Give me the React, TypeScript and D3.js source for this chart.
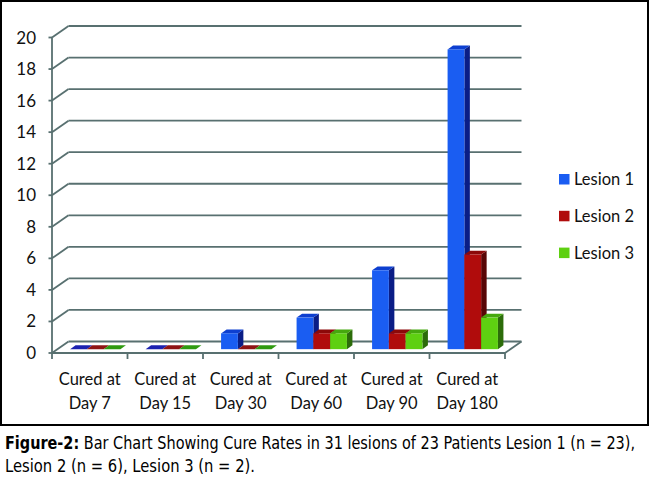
import * as d3 from 'd3';

const categories = ['Day 7', 'Day 15', 'Day 30', 'Day 60', 'Day 90', 'Day 180'];
const seriesNames = ['Lesion 1', 'Lesion 2', 'Lesion 3'];
const lesion1 = [0, 0, 1, 2, 5, 19];
const lesion2 = [0, 0, 0, 1, 1, 6];
const lesion3 = [0, 0, 0, 1, 1, 2];
const yTicks = [0, 2, 4, 6, 8, 10, 12, 14, 16, 18, 20];
const captionLine1 = 'Bar Chart Showing Cure Rates in 31 lesions of 23 Patients Lesion 1 (n = 23),';
const captionLine2 = 'Lesion 2 (n = 6), Lesion 3 (n = 2).';

const seriesValues = [lesion1, lesion2, lesion3];
const palette = [
  { front: '#1a5df2', top: '#0d3fd0', side: '#0a1d86', flat: '#1c22b0' },
  { front: '#b00c0c', top: '#8c0909', side: '#580606', flat: '#8e1414' },
  { front: '#5ed011', top: '#45a80e', side: '#2c6c0a', flat: '#2f9a10' },
];

const W = 650;
const H = 487;
const font = 'Lato, "Open Sans", sans-serif';
const narrow = '"Liberation Sans Narrow", "DejaVu Sans Condensed", sans-serif';
const gridColor = '#587070';
const captionScale = 0.8;

// floor depth vector (front -> back)
const DX = 16.5;
const DY = -11.5;

const App = () => {
  const x = d3.scaleBand<string>().domain(categories).range([52, 505]).paddingInner(0).paddingOuter(0);
  const y = d3.scaleLinear().domain([0, 20]).range([353, 37.5]);
  const inner = d3.scaleBand<string>()
    .domain(seriesNames)
    .range([0, x.bandwidth()])
    .paddingInner(0)
    .paddingOuter(0.75);

  // bars sit in the middle third of the floor depth
  const fx = DX / 3;
  const fy = DY / 3;
  const bx = DX / 3;
  const by = DY / 3;

  const bars: JSX.Element[] = [];
  categories.forEach((c, ci) => {
    seriesNames.forEach((s, si) => {
      const v = seriesValues[si][ci];
      const col = palette[si];
      const x0 = (x(c) || 0) + (inner(s) || 0) + fx;
      const w = inner.bandwidth();
      const yb = y(0) + fy;
      const yt = y(v) + fy;
      const key = `${c}-${s}`;
      if (v === 0) {
        bars.push(
          <polygon key={key} fill={col.flat}
            points={`${x0},${yb} ${x0 + w},${yb} ${x0 + w + bx},${yb + by} ${x0 + bx},${yb + by}`} />
        );
        return;
      }
      bars.push(
        <g key={key}>
          <polygon fill={col.side}
            points={`${x0 + w},${yb} ${x0 + w + bx},${yb + by} ${x0 + w + bx},${yt + by} ${x0 + w},${yt}`} />
          <polygon fill={col.top}
            points={`${x0},${yt} ${x0 + w},${yt} ${x0 + w + bx},${yt + by} ${x0 + bx},${yt + by}`} />
          <rect x={x0} y={yt} width={w} height={yb - yt} fill={col.front} />
        </g>
      );
    });
  });

  const left = x.range()[0];
  const right = x.range()[1];
  const bounds = [...categories.map(c => x(c) || 0), right];

  return (
    <svg width={W} height={H} style={{ position: 'absolute', left: 0, top: 0, background: '#fff' }}>
      <rect x={1} y={1} width={647} height={424} fill="#fff" stroke="#000" strokeWidth={2} />

      {/* back wall gridlines and left diagonals */}
      {yTicks.map(t => (
        <g key={t} stroke={gridColor} strokeWidth={1.8} fill="none">
          <line x1={left + DX} x2={right + DX} y1={y(t) + DY} y2={y(t) + DY} />
          <line x1={left} x2={left + DX} y1={y(t)} y2={y(t) + DY} />
          <line x1={left - 3.5} x2={left} y1={y(t)} y2={y(t)} />
        </g>
      ))}

      {/* y axis and floor */}
      <g stroke={gridColor} strokeWidth={1.8} fill="none">
        <line x1={left} x2={left} y1={y(20)} y2={y(0)} />
        <line x1={left} x2={right} y1={y(0)} y2={y(0)} />
        <line x1={right} x2={right + DX} y1={y(0)} y2={y(0) + DY} />
        {bounds.map((b, i) => (
          <line key={i} x1={b} x2={b} y1={y(0)} y2={y(0) + 6} />
        ))}
      </g>

      {bars}

      {/* y tick labels */}
      {yTicks.map(t => (
        <text key={t} x={36} y={y(t) + 6} textAnchor="end" fontFamily={font} fontSize={17} fill="#111">
          {t}
        </text>
      ))}

      {/* category labels */}
      {categories.map(c => {
        const cx = (x(c) || 0) + x.bandwidth() / 2;
        return (
          <text key={c} x={cx} textAnchor="middle" fontFamily={font} fontSize={16.5} fill="#111">
            <tspan x={cx} y={385}>Cured at</tspan>
            <tspan x={cx} y={409}>{c}</tspan>
          </text>
        );
      })}

      {/* legend */}
      {seriesNames.map((s, i) => (
        <g key={s} transform={`translate(559,${174 + i * 36.8})`}>
          <rect width={10.5} height={10.5} fill={palette[i].front} />
          <text x={15} y={11} fontFamily={font} fontSize={16.5} fill="#111">{s}</text>
        </g>
      ))}

      {/* caption (condensed horizontally like the original) */}
      <g transform={`translate(5,449) scale(${captionScale},1)`}>
        <text x={0} y={0} fontFamily={narrow} fontSize={18} fill="#000"
          textLength={630 / captionScale} lengthAdjust="spacingAndGlyphs">
          <tspan fontWeight="bold">Figure-2:</tspan> {captionLine1}
        </text>
      </g>
      <g transform={`translate(5,472) scale(${captionScale},1)`}>
        <text x={0} y={0} fontFamily={narrow} fontSize={18} fill="#000"
          textLength={250 / captionScale} lengthAdjust="spacingAndGlyphs">
          {captionLine2}
        </text>
      </g>
    </svg>
  );
};

export default App;
